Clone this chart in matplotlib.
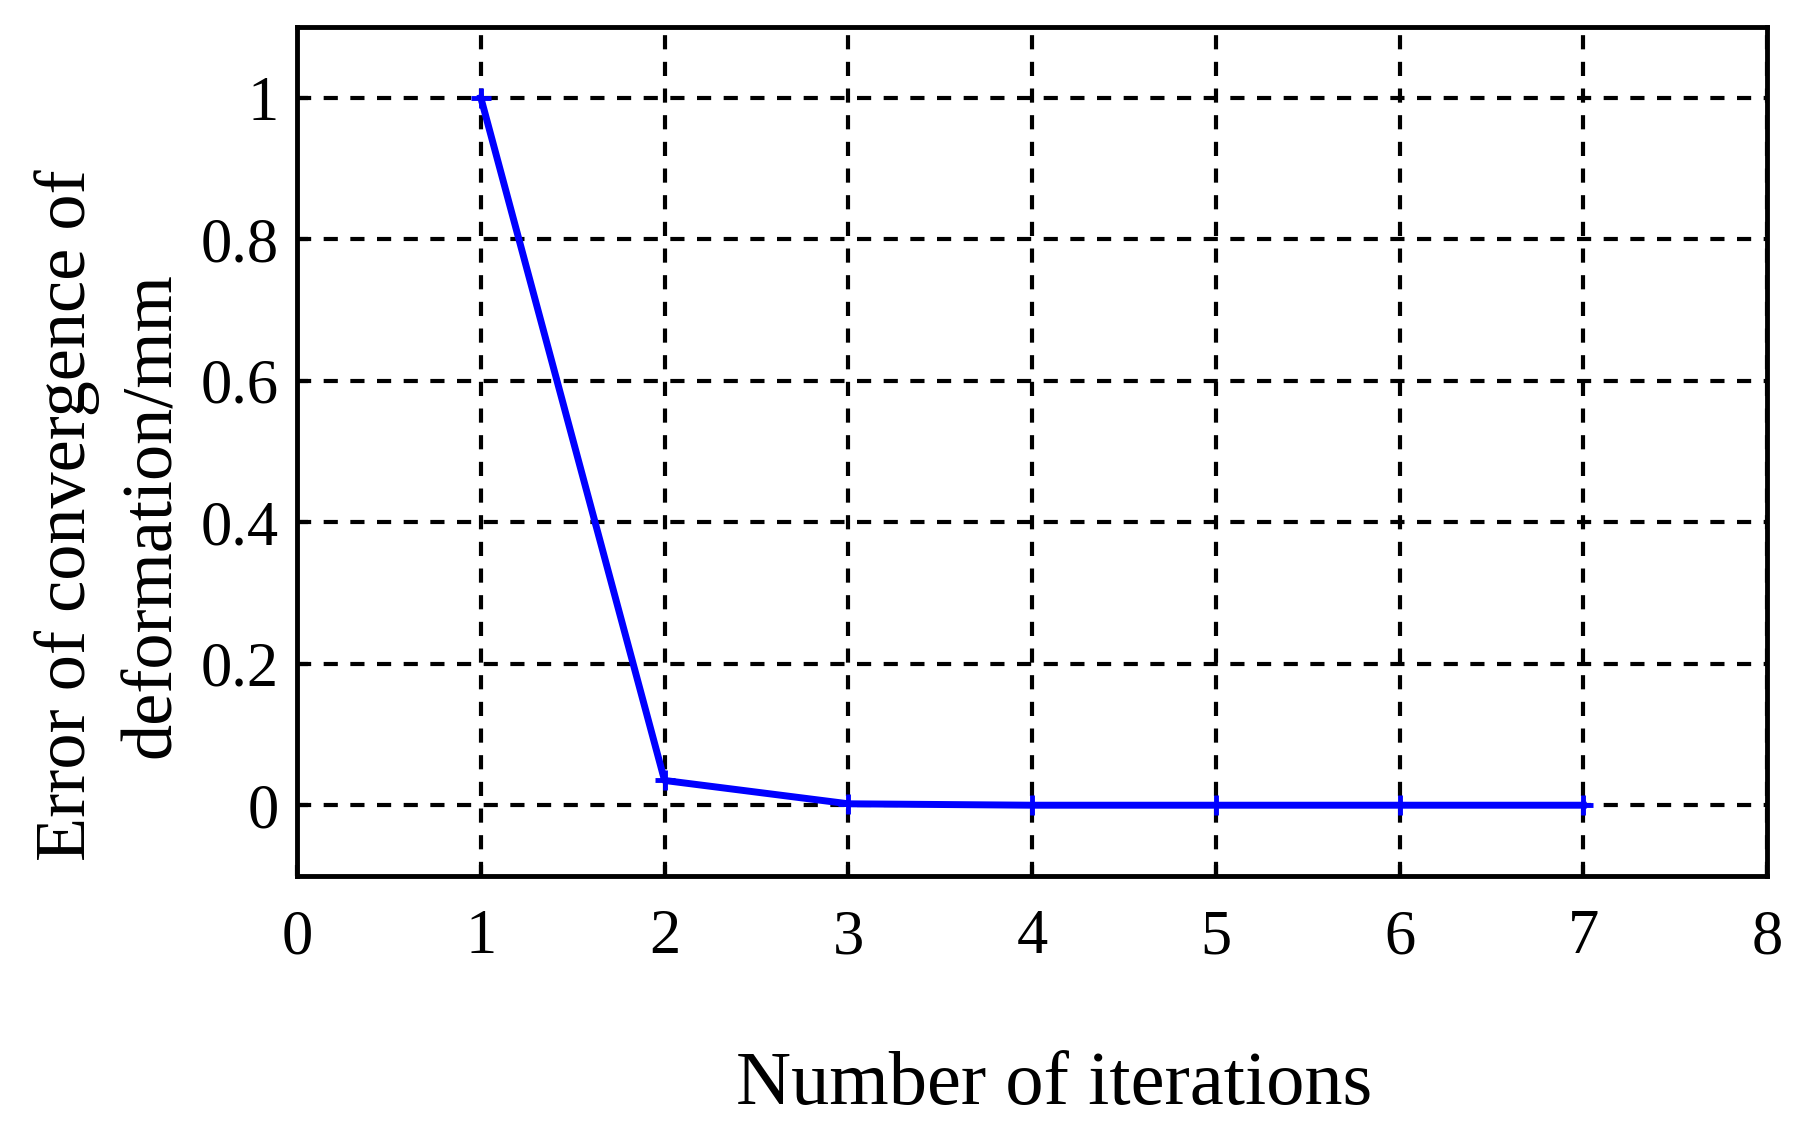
import numpy as np
import matplotlib
matplotlib.use('Agg')
import matplotlib.pyplot as plt

# iteration data
iterations = [1, 2, 3, 4, 5, 6, 7]
error_mm = [1.0, 0.035, 0.002, 0.0, 0.0, 0.0, 0.0]

x_ticks = [0, 1, 2, 3, 4, 5, 6, 7, 8]
y_ticks = [0, 0.2, 0.4, 0.6, 0.8, 1.0]
y_tick_labels = ['0', '0.2', '0.4', '0.6', '0.8', '1']

plt.rcParams['font.family'] = ['Liberation Serif', 'DejaVu Serif']

fig = plt.figure(figsize=(18.06, 11.44), dpi=100)
ax = fig.add_axes([0.1645, 0.2343, 0.8139, 0.7421])

ax.plot(iterations, error_mm, color='#0000ff', lw=5,
        marker='+', markersize=14, markeredgewidth=3.5, zorder=3)

ax.set_xlim(0, 8)
ax.set_ylim(-0.1, 1.1)
ax.set_xticks(x_ticks)
ax.set_yticks(y_ticks)
ax.set_yticklabels(y_tick_labels)
ax.tick_params(labelsize=45, direction='in', length=8, width=3, pad=13)
ax.tick_params(axis='x', pad=24)

ax.grid(True, color='black', lw=3, linestyle=(0, (3.4, 3.0)))
for s in ax.spines.values():
    s.set_linewidth(3.5)

ax.set_xlabel('Number of iterations', fontsize=55)
ax.xaxis.set_label_coords(0.515, -0.206)
ax.set_ylabel('Error of convergence of\ndeformation/mm', fontsize=52, linespacing=1.4)
ax.yaxis.set_label_coords(-0.076, 0.425)

fig.savefig('out.png', dpi=100)
